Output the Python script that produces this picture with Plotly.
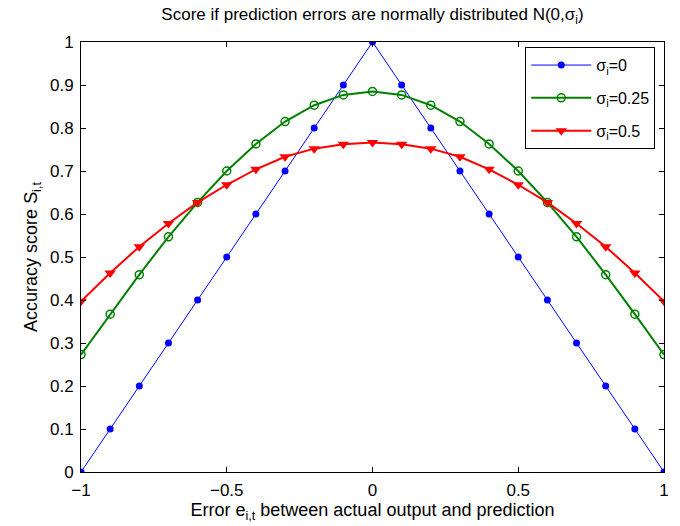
import plotly.graph_objects as go

errors = [-1.0, -0.9, -0.8, -0.7, -0.6, -0.5, -0.4, -0.3, -0.2, -0.1, 0.0,
          0.1, 0.2, 0.3, 0.4, 0.5, 0.6, 0.7, 0.8, 0.9, 1.0]
score_s0 = [0.0, 0.1, 0.2, 0.3, 0.4, 0.5, 0.6, 0.7, 0.8, 0.9, 1.0,
            0.9, 0.8, 0.7, 0.6, 0.5, 0.4, 0.3, 0.2, 0.1, 0.0]
score_s025 = [0.273, 0.367, 0.459, 0.547, 0.627, 0.700, 0.763, 0.815, 0.853, 0.877, 0.885,
              0.877, 0.853, 0.815, 0.763, 0.700, 0.627, 0.547, 0.459, 0.367, 0.273]
score_s05 = [0.397, 0.463, 0.524, 0.578, 0.627, 0.668, 0.704, 0.733, 0.752, 0.762, 0.766,
             0.762, 0.752, 0.733, 0.704, 0.668, 0.627, 0.578, 0.524, 0.463, 0.397]
series_names = ["σ<sub>i</sub>=0", "σ<sub>i</sub>=0.25", "σ<sub>i</sub>=0.5"]
x_ticks = [-1, -0.5, 0, 0.5, 1]
x_tick_text = ["−1", "−0.5", "0", "0.5", "1"]
y_ticks = [0, 0.1, 0.2, 0.3, 0.4, 0.5, 0.6, 0.7, 0.8, 0.9, 1]
y_tick_text = ["0", "0.1", "0.2", "0.3", "0.4", "0.5", "0.6", "0.7", "0.8", "0.9", "1"]

fig = go.Figure()
fig.add_trace(go.Scatter(x=errors, y=score_s0, mode="lines+markers", name=series_names[0],
                         legendgroup="a",
                         line=dict(color="#0000ff", width=1),
                         marker=dict(symbol="circle", size=7, color="#0000ff")))
fig.add_trace(go.Scatter(x=errors, y=score_s025, mode="lines+markers", name=series_names[1],
                         legendgroup="b",
                         line=dict(color="#008000", width=2),
                         marker=dict(symbol="circle-open", size=8, color="#008000",
                                     line=dict(width=1.5, color="#008000"))))
fig.add_trace(go.Scatter(x=errors, y=score_s05, mode="lines+markers", name=series_names[2],
                         legendgroup="c",
                         line=dict(color="#ff0000", width=2),
                         marker=dict(symbol="triangle-down", size=10, color="#ff0000")))

axis_common = dict(showline=True, linecolor="black", linewidth=1, mirror="ticks",
                   ticks="inside", ticklen=5, tickcolor="black", showgrid=False,
                   zeroline=False, automargin=False, ticklabelstandoff=3,
                   tickfont=dict(size=17, color="black"))

fig.update_layout(
    width=680, height=526,
    margin=dict(l=81, r=16, t=42, b=54),
    paper_bgcolor="white", plot_bgcolor="white",
    font=dict(family="Liberation Sans, Arial, sans-serif", size=16, color="black"),
    title=dict(text="Score if prediction errors are normally distributed N(0,σ<sub>i</sub>)",
               x=0.5, xanchor="center", xref="paper", y=0.973, yanchor="middle",
               font=dict(size=17, color="black")),
    xaxis=dict(range=[-1, 1], tickvals=x_ticks, ticktext=x_tick_text,
               title=dict(text="Error e<sub>i,t</sub> between actual output and prediction",
                          standoff=3, font=dict(size=18)),
               **axis_common),
    yaxis=dict(range=[0, 1], tickvals=y_ticks, ticktext=y_tick_text,
               title=dict(text="Accuracy score S<sub>i,t</sub>", standoff=7, font=dict(size=18)),
               **axis_common),
    legend=dict(x=0.985, y=0.988, xanchor="right", yanchor="top",
                bgcolor="white", bordercolor="black", borderwidth=1,
                font=dict(size=16), itemwidth=60, tracegroupgap=9),
    showlegend=True,
)

fig.write_html("out.html")
